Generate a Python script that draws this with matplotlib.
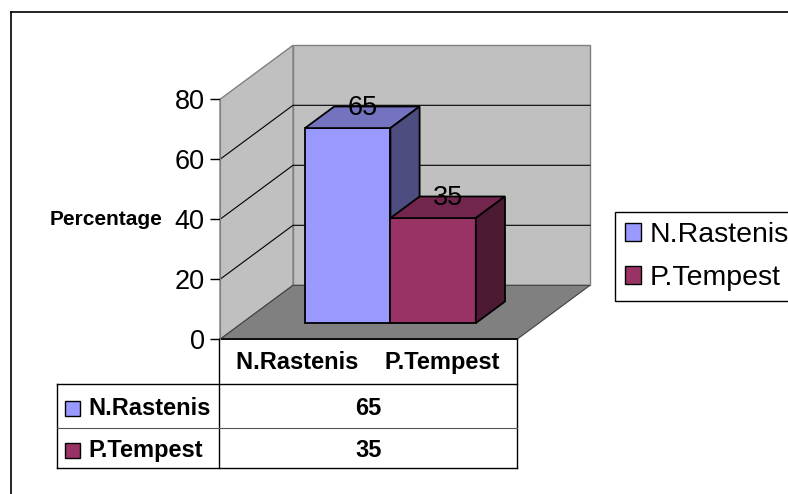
import matplotlib
matplotlib.use('Agg')
import matplotlib.pyplot as plt
from matplotlib.patches import Polygon, Rectangle, Patch
from matplotlib.transforms import IdentityTransform
import numpy as np

plt.rcParams['font.family'] = ['Liberation Sans', 'DejaVu Sans']

# data
categories = ['N.Rastenis    P.Tempest']
series = ['N.Rastenis', 'P.Tempest']
values = [65, 35]
y_ticks = [0, 20, 40, 60, 80]
y_label = 'Percentage'

front_colors = ['#9999FF', '#993366']
top_colors = ['#7373BF', '#73264D']
side_colors = ['#4D4D80', '#4D1A33']

W, H = 788, 494
fig = plt.figure(figsize=(W / 100, H / 100), dpi=100)

# pixel overlay for border and data table (y goes down)
bg = fig.add_axes([0, 0, 1, 1])
bg.set_xlim(0, W)
bg.set_ylim(H, 0)
bg.axis('off')

# value axes = front plane of the 3d box
ax = fig.add_axes([220 / W, (H - 339.3) / H, 297 / W, 240 / H])
ax.set_xlim(-0.5, len(categories) - 0.5)
ax.set_ylim(y_ticks[0], y_ticks[-1])
ax.patch.set_visible(False)
for s in ['top', 'right', 'bottom']:
    ax.spines[s].set_visible(False)
ax.spines['left'].set_color('#808080')
ax.set_xticks([])
ax.set_yticks(y_ticks)
ax.tick_params(axis='y', length=7, width=1, color='black', labelsize=19.5, pad=4)
ax.set_ylabel(y_label, rotation=0, fontsize=15, fontweight='bold', ha='right', va='center')
ax.yaxis.set_label_coords(-0.195, 0.5)

depth = np.array([73.0, 54.0])  # pixels of full depth
fig.canvas.draw()


def proj(x, y, z):
    return ax.transData.transform((x, y)) + z * depth


def poly(pts, fc, ec, lw, zo):
    p = Polygon(pts, closed=True, facecolor=fc, edgecolor=ec, linewidth=lw,
                transform=IdentityTransform(), clip_on=False, zorder=zo)
    ax.add_patch(p)


x0, x1 = ax.get_xlim()
ymin, ymax = y_ticks[0], y_ticks[-1]

# walls and floor
poly([proj(x0, ymin, 1), proj(x1, ymin, 1), proj(x1, ymax, 1), proj(x0, ymax, 1)],
     '#C0C0C0', '#808080', 1.0, 0.1)
poly([proj(x0, ymin, 0), proj(x0, ymin, 1), proj(x0, ymax, 1), proj(x0, ymax, 0)],
     '#C0C0C0', '#808080', 1.0, 0.1)
for t in y_ticks[1:-1]:
    pts = np.array([proj(x0, t, 0), proj(x0, t, 1), proj(x1, t, 1)])
    ax.plot(pts[:, 0], pts[:, 1], color='black', lw=0.8,
            transform=IdentityTransform(), clip_on=False, zorder=0.2)
poly([proj(x0, ymin, 0), proj(x1, ymin, 0), proj(x1, ymin, 1), proj(x0, ymin, 1)],
     '#808080', '#404040', 0.8, 0.3)
pts = np.array([proj(x0, ymin, 0), proj(x1, ymin, 0)])
ax.plot(pts[:, 0], pts[:, 1], color='black', lw=1.2,
        transform=IdentityTransform(), clip_on=False, zorder=0.4)

# bars
bw = 0.2875
z0, z1 = 0.3, 0.7
for ci in range(len(categories)):
    for i, v in enumerate(values):
        bx0 = ci - bw * len(values) / 2 + i * bw
        bx1 = bx0 + bw
        poly([proj(bx0, 0, z0), proj(bx1, 0, z0), proj(bx1, v, z0), proj(bx0, v, z0)],
             front_colors[i], 'black', 1.3, 1 + i)
        poly([proj(bx0, v, z0), proj(bx1, v, z0), proj(bx1, v, z1), proj(bx0, v, z1)],
             top_colors[i], 'black', 1.3, 1 + i)
        poly([proj(bx1, 0, z0), proj(bx1, 0, z1), proj(bx1, v, z1), proj(bx1, v, z0)],
             side_colors[i], 'black', 1.3, 1 + i)
        lx, ly = proj((bx0 + bx1) / 2, v, 0.5)
        ax.text(lx, ly + 2, str(v), fontsize=19.5, ha='center', va='baseline',
                transform=IdentityTransform(), zorder=5)

# legend
handles = [Patch(facecolor=c, edgecolor='black', linewidth=1) for c in front_colors]
leg = fig.legend(handles, series, loc='upper left', bbox_to_anchor=(615 / W, 1 - 212 / H),
                 frameon=True, fancybox=False, edgecolor='black', framealpha=1,
                 fontsize=20.5, handlelength=0.58, handleheight=0.58, handletextpad=0.3,
                 borderpad=0.35, labelspacing=0.6, borderaxespad=0)
leg.get_frame().set_linewidth(1)

# data table
tl, tr = 219.3, 517
left = 57
rows_y = [384, 428, 468]
top = 339
bg.plot([tl, tl], [top, rows_y[-1]], color='black', lw=1)
bg.plot([tr, tr], [top, rows_y[-1]], color='black', lw=1)
bg.plot([left, left], [rows_y[0], rows_y[-1]], color='black', lw=1)
bg.plot([left, tr], [rows_y[0], rows_y[0]], color='black', lw=1)
bg.plot([left, tr], [rows_y[1], rows_y[1]], color='#555555', lw=0.8)
bg.plot([left, tr], [rows_y[2], rows_y[2]], color='black', lw=1)
cx = (tl + tr) / 2
bg.text(cx, (top + rows_y[0]) / 2 + 1, categories[0], fontsize=17, fontweight='bold',
        ha='center', va='center')
row_tops = [rows_y[0], rows_y[1]]
row_bots = [rows_y[1], rows_y[2]]
for i, (name, v) in enumerate(zip(series, values)):
    yc = (row_tops[i] + row_bots[i]) / 2 + 2
    bg.add_patch(Rectangle((65, yc - 7.5), 15, 15, facecolor=front_colors[i],
                           edgecolor='black', lw=1))
    bg.text(88, yc, name, fontsize=17, fontweight='bold', ha='left', va='center')
    bg.text(cx, yc, str(v), fontsize=17, fontweight='bold', ha='center', va='center')

# chart border
bg.plot([11, 11], [H + 5, 12], color='black', lw=1.2, clip_on=False)
bg.plot([11, W + 5], [12, 12], color='black', lw=1.2, clip_on=False)

fig.savefig('out.png', dpi=100)
